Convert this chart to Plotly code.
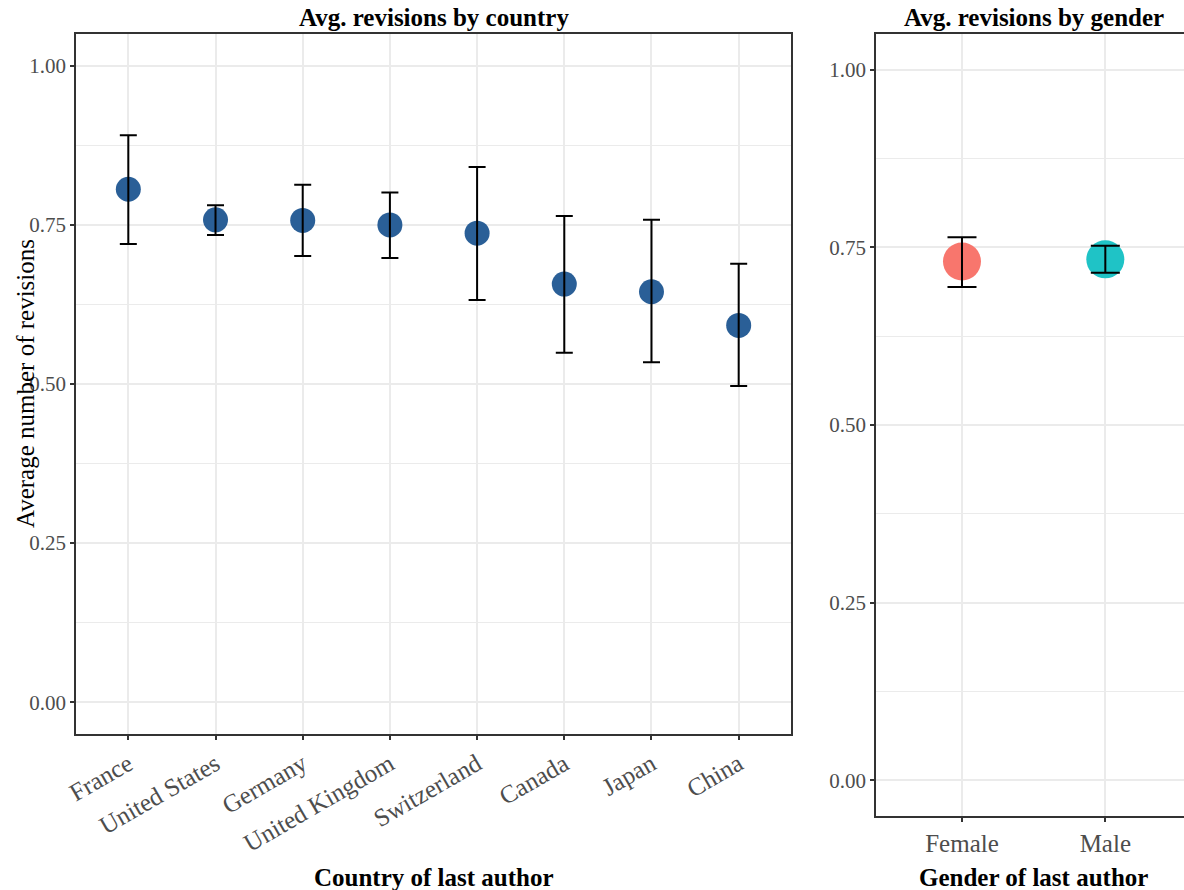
import plotly.graph_objects as go

# Average revisions per manuscript, by country of last author (mean with CI bounds)
countries = ["France", "United States", "Germany", "United Kingdom",
             "Switzerland", "Canada", "Japan", "China"]
country_mean = [0.806, 0.758, 0.757, 0.750, 0.737, 0.657, 0.645, 0.592]
country_low = [0.720, 0.734, 0.701, 0.698, 0.632, 0.549, 0.534, 0.497]
country_high = [0.891, 0.781, 0.813, 0.801, 0.841, 0.764, 0.758, 0.689]

# Same measure, by gender of last author
genders = ["Female", "Male"]
gender_mean = [0.730, 0.733]
gender_low = [0.694, 0.714]
gender_high = [0.764, 0.752]
gender_colors = ["#F8766D", "#1FC3C6"]

y_ticks = [0.0, 0.25, 0.5, 0.75, 1.0]

W, H = 1184, 890
FONT = "Liberation Serif"
GRID = "#EBEBEB"
LINE = "#333333"
TICKTXT = "#4D4D4D"


def px_x(v):
    return v / W


def px_y(v):
    return 1 - v / H


fig = go.Figure()

# Country panel: points, then error bars drawn on top of them
fig.add_trace(go.Scatter(
    x=countries, y=country_mean, mode="markers",
    marker=dict(size=25, color="#2A5F97", line=dict(width=0)),
    xaxis="x", yaxis="y", showlegend=False, hoverinfo="skip"))
fig.add_trace(go.Scatter(
    x=countries, y=country_mean, mode="markers",
    marker=dict(size=1, opacity=0),
    error_y=dict(type="data", symmetric=False,
                 array=[h - m for h, m in zip(country_high, country_mean)],
                 arrayminus=[m - l for m, l in zip(country_mean, country_low)],
                 color="black", thickness=2, width=8.5),
    xaxis="x", yaxis="y", showlegend=False, hoverinfo="skip"))

# Gender panel
fig.add_trace(go.Scatter(
    x=genders, y=gender_mean, mode="markers",
    marker=dict(size=38, color=gender_colors, line=dict(width=0)),
    xaxis="x2", yaxis="y2", showlegend=False, hoverinfo="skip"))
fig.add_trace(go.Scatter(
    x=genders, y=gender_mean, mode="markers",
    marker=dict(size=1, opacity=0),
    error_y=dict(type="data", symmetric=False,
                 array=[h - m for h, m in zip(gender_high, gender_mean)],
                 arrayminus=[m - l for m, l in zip(gender_mean, gender_low)],
                 color="black", thickness=2, width=14.5),
    xaxis="x2", yaxis="y2", showlegend=False, hoverinfo="skip"))

common_y = dict(
    range=[-0.05, 1.05], tickvals=y_ticks, ticktext=[f"{v:.2f}" for v in y_ticks],
    showgrid=True, gridcolor=GRID, gridwidth=1.6,
    minor=dict(dtick=0.125, tick0=0, showgrid=True, gridcolor=GRID, gridwidth=1, ticks=""),
    zeroline=False, showline=True, linecolor=LINE, linewidth=1.5,
    ticks="outside", ticklen=4, tickwidth=1.5, tickcolor=LINE,
    tickfont=dict(family=FONT, size=21, color=TICKTXT),
    automargin=False,
)
common_x = dict(
    type="category", showgrid=True, gridcolor=GRID, gridwidth=1.6,
    zeroline=False, showline=True, linecolor=LINE, linewidth=1.5, mirror=True,
    ticks="outside", ticklen=4, tickwidth=1.5, tickcolor=LINE,
    tickfont=dict(family=FONT, size=25, color=TICKTXT),
    automargin=False,
)

fig.update_layout(
    width=W, height=H,
    margin=dict(l=0, r=0, t=0, b=0),
    paper_bgcolor="white", plot_bgcolor="white",
    xaxis=dict(common_x, domain=[px_x(76), px_x(791)], range=[-0.6, 7.6],
               tickangle=-30, anchor="y"),
    yaxis=dict(common_y, domain=[px_y(734), px_y(34)], mirror=True, anchor="x"),
    xaxis2=dict(common_x, domain=[px_x(876), 1.0], range=[-0.6, 1.549],
                anchor="y2"),
    yaxis2=dict(common_y, domain=[px_y(816), px_y(34)], mirror=False, anchor="x2"),
)

annotations = [
    dict(text="<b>Avg. revisions by country</b>", x=px_x(433.5), y=px_y(18),
         font=dict(size=25, color="black")),
    dict(text="<b>Avg. revisions by gender</b>", x=px_x(1033.5), y=px_y(18),
         font=dict(size=25, color="black")),
    dict(text="<b>Country of last author</b>", x=px_x(433.5), y=px_y(877),
         font=dict(size=25, color="black")),
    dict(text="<b>Gender of last author</b>", x=px_x(1033.5), y=px_y(877),
         font=dict(size=25, color="black")),
    dict(text="Average number of revisions", x=px_x(25), y=px_y(384),
         textangle=-90, font=dict(size=25, color="black")),
]
for a in annotations:
    a.update(xref="paper", yref="paper", showarrow=False,
             xanchor="center", yanchor="middle")
    a["font"]["family"] = FONT
fig.update_layout(annotations=annotations)

fig.write_html("out.html")
